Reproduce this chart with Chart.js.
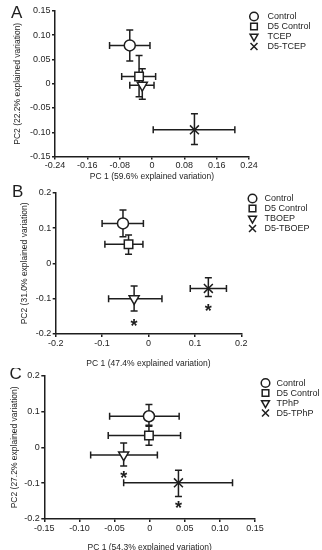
<!DOCTYPE html>
<html>
<head>
<meta charset="utf-8">
<script src="https://cdn.jsdelivr.net/npm/chart.js@4.4.0/dist/chart.umd.min.js"></script>
<style>
  html, body { margin: 0; padding: 0; background: #fff; overflow: hidden; }
  .panel { position: absolute; left: 0; width: 322px; }
</style>
</head>
<body>
<div class="panel" style="top:0;height:184px"><canvas id="chartA"></canvas></div>
<div class="panel" style="top:184px;height:184px"><canvas id="chartB"></canvas></div>
<div class="panel" style="top:368px;height:186px"><canvas id="chartC"></canvas></div>
<script>
// Panel A - TCEP
const groupsA = ['Control', 'D5 Control', 'TCEP', 'D5-TCEP'];
const pc1A   = [-0.055, -0.032, -0.024, 0.105];
const pc2A   = [0.079, 0.015, -0.003, -0.095];
const pc1LoA = [-0.105, -0.075, -0.055, 0.003];
const pc1HiA = [-0.005, 0.009, 0.005, 0.205];
const pc2LoA = [0.047, -0.027, -0.032, -0.125];
const pc2HiA = [0.111, 0.058, 0.031, -0.062];
const starsA = [false, false, false, false];
const xTicksA = [-0.24, -0.16, -0.08, 0, 0.08, 0.16, 0.24];
const xLabelsA = ['-0.24', '-0.16', '-0.08', '0', '0.08', '0.16', '0.24'];
const yTicksA = [-0.15, -0.10, -0.05, 0, 0.05, 0.10, 0.15];
const yLabelsA = ['-0.15', '-0.10', '-0.05', '0', '0.05', '0.10', '0.15'];

// Panel B - TBOEP
const groupsB = ['Control', 'D5 Control', 'TBOEP', 'D5-TBOEP'];
const pc1B   = [-0.055, -0.043, -0.031, 0.129];
const pc2B   = [0.113, 0.054, -0.100, -0.071];
const pc1LoB = [-0.100, -0.094, -0.086, 0.090];
const pc1HiB = [-0.011, -0.012, 0.029, 0.168];
const pc2LoB = [0.075, 0.026, -0.135, -0.094];
const pc2HiB = [0.151, 0.080, -0.064, -0.041];
const starsB = [false, false, true, true];
const xTicksB = [-0.2, -0.1, 0, 0.1, 0.2];
const xLabelsB = ['-0.2', '-0.1', '0', '0.1', '0.2'];
const yTicksB = [-0.2, -0.1, 0, 0.1, 0.2];
const yLabelsB = ['-0.2', '-0.1', '0', '0.1', '0.2'];

// Panel C - TPhP
const groupsC = ['Control', 'D5 Control', 'TPhP', 'D5-TPhP'];
const pc1C   = [-0.001, -0.001, -0.037, 0.041];
const pc2C   = [0.087, 0.033, -0.021, -0.099];
const pc1LoC = [-0.057, -0.059, -0.084, -0.037];
const pc1HiC = [0.042, 0.044, 0.011, 0.118];
const pc2LoC = [0.059, 0.006, -0.052, -0.137];
const pc2HiC = [0.120, 0.062, 0.012, -0.064];
const starsC = [false, false, true, true];
const xTicksC = [-0.15, -0.10, -0.05, 0, 0.05, 0.10, 0.15];
const xLabelsC = ['-0.15', '-0.10', '-0.05', '0', '0.05', '0.10', '0.15'];
const yTicksC = [-0.2, -0.1, 0, 0.1, 0.2];
const yLabelsC = ['-0.2', '-0.1', '0', '0.1', '0.2'];

const ink = '#1e1e1e';
const family = '"Liberation Sans", Arial, sans-serif';
Chart.defaults.font.family = family;
Chart.defaults.color = ink;

// marker look per group position: circle, square, down triangle, X
const markerStyles = ['circle', 'rect', 'triangle', 'crossRot'];
const markerRot = [0, 0, 180, 0];
const markerRadius = [5.5, 6, 5.8, 6.3];

function makePanel(id, p) {
    const box = p.box;

    const errorBars = {
        id: 'errorBars',
        beforeDatasetsDraw(chart) {
            const { ctx } = chart;
            const x = chart.scales.x, y = chart.scales.y;
            const c = 3.5;
            ctx.save();
            ctx.strokeStyle = ink;
            ctx.lineWidth = 1.5;
            p.pc1.forEach((_, i) => {
                const px = x.getPixelForValue(p.pc1[i]);
                const py = y.getPixelForValue(p.pc2[i]);
                const x0 = x.getPixelForValue(p.pc1Lo[i]), x1 = x.getPixelForValue(p.pc1Hi[i]);
                const y0 = y.getPixelForValue(p.pc2Lo[i]), y1 = y.getPixelForValue(p.pc2Hi[i]);
                ctx.beginPath();
                ctx.moveTo(x0, py); ctx.lineTo(x1, py);
                ctx.moveTo(x0, py - c); ctx.lineTo(x0, py + c);
                ctx.moveTo(x1, py - c); ctx.lineTo(x1, py + c);
                ctx.moveTo(px, y0); ctx.lineTo(px, y1);
                ctx.moveTo(px - c, y0); ctx.lineTo(px + c, y0);
                ctx.moveTo(px - c, y1); ctx.lineTo(px + c, y1);
                ctx.stroke();
            });
            ctx.restore();
        },
        afterDraw(chart) {
            const { ctx } = chart;
            const x = chart.scales.x, y = chart.scales.y;
            ctx.save();
            // significance stars under the lower error cap
            ctx.fillStyle = ink;
            ctx.textAlign = 'center';
            ctx.textBaseline = 'alphabetic';
            ctx.font = 'bold 18px ' + family;
            p.stars.forEach((s, i) => {
                if (!s) return;
                const px = x.getPixelForValue(p.pc1[i]);
                const py = y.getPixelForValue(p.pc2Lo[i]) + box.star;
                ctx.fillText('*', px, py + 18 * 0.6);
            });
            // panel letter
            ctx.textAlign = 'left';
            ctx.textBaseline = 'top';
            ctx.font = '17px ' + family;
            ctx.fillText(p.letter, box.letterX, box.letterY);
            // legend
            ctx.font = '9px ' + family;
            ctx.textBaseline = 'middle';
            p.groups.forEach((g, i) => {
                const ly = box.legY + i * box.legStep;
                ctx.strokeStyle = ink;
                ctx.fillStyle = '#fff';
                ctx.lineWidth = 1.5;
                Chart.helpers.drawPoint(ctx, {
                    pointStyle: markerStyles[i],
                    rotation: markerRot[i],
                    radius: markerRadius[i] * 0.78,
                    borderWidth: 1.5
                }, box.legX, ly);
                ctx.fillStyle = ink;
                ctx.fillText(g, box.legX + box.legGap, ly + 0.5);
            });
            ctx.restore();
        }
    };

    const tickFont = { size: 9, family };
    const titleFont = { size: 8.5, family, lineHeight: 1 };

    return new Chart(document.getElementById(id), {
        type: 'scatter',
        data: {
            datasets: p.groups.map((g, i) => ({
                label: g,
                data: [{ x: p.pc1[i], y: p.pc2[i] }],
                pointStyle: markerStyles[i],
                pointRotation: markerRot[i],
                pointRadius: markerRadius[i],
                pointHoverRadius: markerRadius[i],
                pointBackgroundColor: '#fff',
                pointBorderColor: ink,
                pointBorderWidth: 1.5
            }))
        },
        options: {
            responsive: true,
            maintainAspectRatio: false,
            animation: false,
            events: [],
            layout: { padding: { left: 0, top: box.top, right: 322 - box.right, bottom: 0 } },
            plugins: { legend: { display: false }, tooltip: { enabled: false } },
            scales: {
                x: {
                    type: 'linear',
                    min: p.xTicks[0],
                    max: p.xTicks[p.xTicks.length - 1],
                    afterBuildTicks: s => { s.ticks = p.xTicks.map(v => ({ value: v })); },
                    afterFit: s => { s.height = box.xh; },
                    ticks: { callback: (v, i) => p.xLabels[i], font: tickFont, color: ink, padding: 1, maxRotation: 0, autoSkip: false },
                    grid: { display: true, drawOnChartArea: false, drawTicks: true, tickLength: 3, color: ink, lineWidth: 1.5 },
                    border: { display: true, color: ink, width: 1.5 },
                    title: { display: true, text: p.xTitle, font: titleFont, color: ink, padding: { top: 0, bottom: box.xtp } }
                },
                y: {
                    type: 'linear',
                    min: p.yTicks[0],
                    max: p.yTicks[p.yTicks.length - 1],
                    afterBuildTicks: s => { s.ticks = p.yTicks.map(v => ({ value: v })); },
                    afterFit: s => { s.width = box.left; },
                    ticks: { callback: (v, i) => p.yLabels[i], font: tickFont, color: ink, padding: 1.5, autoSkip: false },
                    grid: { display: true, drawOnChartArea: false, drawTicks: true, tickLength: 3, color: ink, lineWidth: 1.5 },
                    border: { display: true, color: ink, width: 1.5 },
                    title: { display: true, text: p.yTitle, font: titleFont, color: ink, padding: { top: box.ytp, bottom: 0 } }
                }
            }
        },
        plugins: [errorBars]
    });
}

makePanel('chartA', {
    groups: groupsA, pc1: pc1A, pc2: pc2A, pc1Lo: pc1LoA, pc1Hi: pc1HiA, pc2Lo: pc2LoA, pc2Hi: pc2HiA,
    stars: starsA, xTicks: xTicksA, xLabels: xLabelsA, yTicks: yTicksA, yLabels: yLabelsA,
    xTitle: 'PC 1 (59.6% explained variation)', yTitle: 'PC2 (22.2% explained variation)', letter: 'A',
    box: { left: 55, right: 249, top: 11, xh: 27.5, xtp: 3, ytp: 13.5, star: 9, letterX: 11, letterY: 5,
           legX: 254, legY: 16.5, legStep: 10, legGap: 13.5 }
});
makePanel('chartB', {
    groups: groupsB, pc1: pc1B, pc2: pc2B, pc1Lo: pc1LoB, pc1Hi: pc1HiB, pc2Lo: pc2LoB, pc2Hi: pc2HiB,
    stars: starsB, xTicks: xTicksB, xLabels: xLabelsB, yTicks: yTicksB, yLabels: yLabelsB,
    xTitle: 'PC 1 (47.4% explained variation)', yTitle: 'PC2 (31.0% explained variation)', letter: 'B',
    box: { left: 55.7, right: 241.3, top: 8.7, xh: 34, xtp: 0.5, ytp: 20.5, star: 10, letterX: 12, letterY: 0,
           legX: 252.5, legY: 14.5, legStep: 10, legGap: 12 }
});
makePanel('chartC', {
    groups: groupsC, pc1: pc1C, pc2: pc2C, pc1Lo: pc1LoC, pc1Hi: pc1HiC, pc2Lo: pc2LoC, pc2Hi: pc2HiC,
    stars: starsC, xTicks: xTicksC, xLabels: xLabelsC, yTicks: yTicksC, yLabels: yLabelsC,
    xTitle: 'PC 1 (54.3% explained variation)', yTitle: 'PC2 (27.2% explained variation)', letter: 'C',
    box: { left: 44.3, right: 255, top: 5.7, xh: 35, xtp: 2, ytp: 10.5, star: 7, letterX: 9.5, letterY: -2,
           legX: 265.5, legY: 15, legStep: 10, legGap: 11 }
});
</script>
</body>
</html>
